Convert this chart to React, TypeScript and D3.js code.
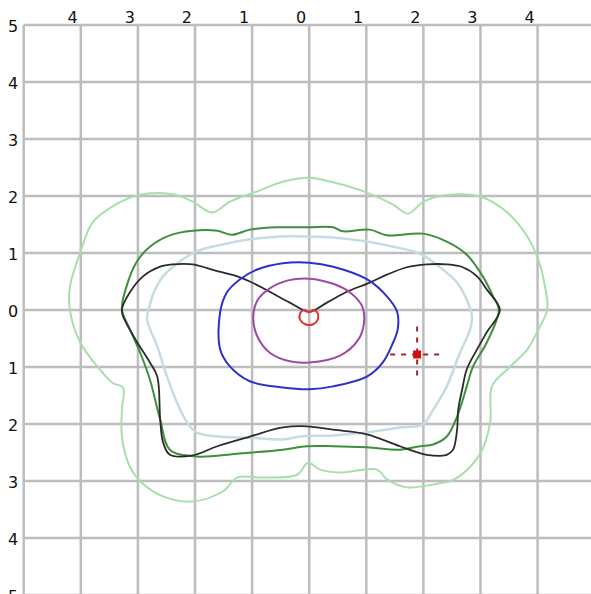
import { useEffect, useRef } from "react"
import * as d3 from "d3"

type Pt = [number, number]

// axis ticks (labels show absolute values)
const xTicks = [-4, -3, -2, -1, 0, 1, 2, 3, 4]
const yTicks = [5, 4, 3, 2, 1, 0, -1, -2, -3, -4, -5]
const gridValues = [-5, -4, -3, -2, -1, 0, 1, 2, 3, 4, 5]

// contour outlines (x, y in grid units)
const outerLight: Pt[] = [
  [0, 2.32], [0.42, 2.24], [1.01, 2.06], [1.47, 1.85], [1.73, 1.69], [2.0, 1.9],
  [2.35, 2.01], [2.99, 1.99], [3.47, 1.71], [3.82, 1.29], [4.01, 0.89], [4.13, 0.41],
  [4.17, 0.01], [4.04, -0.29], [3.82, -0.69], [3.47, -1.04], [3.2, -1.34], [3.17, -1.97],
  [3.03, -2.45], [2.82, -2.75], [2.52, -2.98], [2.17, -3.06], [1.71, -3.11], [1.36, -2.97],
  [1.19, -2.8], [0.54, -2.85], [0.19, -2.8], [-0.02, -2.68], [-0.21, -2.89], [-0.81, -2.94],
  [-1.26, -2.94], [-1.51, -3.18], [-2.04, -3.36], [-2.56, -3.27], [-2.93, -3.03],
  [-3.14, -2.75], [-3.28, -2.22], [-3.28, -1.75], [-3.26, -1.36], [-3.44, -1.28],
  [-3.71, -0.99], [-4.01, -0.57], [-4.19, -0.01], [-4.19, 0.41], [-4.01, 1.01],
  [-3.79, 1.54], [-3.44, 1.82], [-3.02, 2.01], [-2.39, 2.03], [-2.04, 1.9], [-1.7, 1.71],
  [-1.39, 1.9], [-0.91, 2.08], [-0.46, 2.25],
]

const darkGreen: Pt[] = [
  [-3.28, 0.01], [-3.2, 0.41], [-3.03, 0.83], [-2.79, 1.11], [-2.44, 1.31], [-2.04, 1.39],
  [-1.61, 1.39], [-1.35, 1.32], [-1.04, 1.41], [-0.56, 1.45], [0, 1.45], [0.42, 1.45],
  [0.59, 1.38], [1.06, 1.41], [1.36, 1.31], [1.99, 1.34], [2.41, 1.2], [2.76, 0.97],
  [3.04, 0.59], [3.22, 0.24], [3.32, 0.0], [3.11, -0.57], [2.87, -0.99], [2.76, -1.34],
  [2.59, -1.87], [2.41, -2.22], [2.17, -2.36], [1.94, -2.39], [1.59, -2.45], [1.01, -2.41],
  [0.42, -2.39], [-0.04, -2.39], [-0.46, -2.45], [-1.26, -2.52], [-1.97, -2.57],
  [-2.44, -2.45], [-2.61, -1.92], [-2.79, -1.22], [-2.96, -0.75], [-3.14, -0.34],
]

const paleBlue: Pt[] = [
  [-2.81, 0.01], [-2.72, 0.31], [-2.56, 0.59], [-2.21, 0.89], [-1.97, 1.03], [-1.51, 1.15],
  [-1.04, 1.24], [-0.51, 1.29], [0, 1.29], [0.42, 1.27], [1.01, 1.2], [1.47, 1.11],
  [1.82, 1.03], [2.06, 0.92], [2.34, 0.71], [2.59, 0.48], [2.76, 0.18], [2.85, -0.11],
  [2.82, -0.34], [2.64, -0.75], [2.41, -1.34], [2.17, -1.75], [1.99, -2.01], [1.59, -2.06],
  [1.01, -2.15], [0.42, -2.2], [-0.16, -2.22], [-0.46, -2.27], [-1.04, -2.24], [-1.61, -2.22],
  [-1.97, -2.15], [-2.09, -2.04], [-2.26, -1.75], [-2.49, -1.17], [-2.66, -0.64], [-2.84, -0.17],
]

const blackWing: Pt[] = [
  [-3.28, 0.01], [-3.14, 0.31], [-2.91, 0.59], [-2.61, 0.76], [-2.39, 0.8], [-2.04, 0.8],
  [-1.61, 0.68], [-1.26, 0.59], [-1.04, 0.5], [-0.69, 0.32], [-0.34, 0.13], [0, -0.03],
  [0.31, 0.13], [0.66, 0.32], [1.06, 0.48], [1.36, 0.62], [1.71, 0.75], [2.06, 0.8],
  [2.41, 0.8], [2.69, 0.75], [2.94, 0.59], [3.11, 0.36], [3.34, 0.0], [3.11, -0.39],
  [2.94, -0.69], [2.76, -1.04], [2.68, -1.39], [2.61, -1.75], [2.59, -2.1], [2.52, -2.45],
  [2.41, -2.54], [2.06, -2.54], [1.59, -2.39], [1.01, -2.18], [0.42, -2.1], [-0.04, -2.04],
  [-0.46, -2.06], [-1.04, -2.22], [-1.61, -2.39], [-2.04, -2.55], [-2.44, -2.54],
  [-2.56, -2.32], [-2.61, -1.92], [-2.66, -1.17], [-2.79, -0.92], [-3.01, -0.57], [-3.26, -0.11],
]

const blueRing: Pt[] = [
  [0, 0.83], [0.42, 0.76], [1.01, 0.54], [1.36, 0.24], [1.54, -0.03], [1.55, -0.34],
  [1.47, -0.57], [1.29, -0.92], [1.01, -1.17], [0.42, -1.34], [0, -1.39], [-0.46, -1.36],
  [-1.04, -1.25], [-1.39, -0.99], [-1.56, -0.69], [-1.56, -0.04], [-1.44, 0.31],
  [-1.21, 0.54], [-0.91, 0.71], [-0.46, 0.82],
]

const purpleRing: Pt[] = [
  [0, 0.55], [0.42, 0.46], [0.71, 0.31], [0.93, 0.06], [0.96, -0.22], [0.86, -0.52],
  [0.54, -0.8], [0, -0.92], [-0.34, -0.9], [-0.69, -0.75], [-0.91, -0.46], [-0.98, -0.13],
  [-0.9, 0.18], [-0.69, 0.38], [-0.37, 0.52],
]

const redLoop: Pt[] = [
  [0, -0.04], [0.08, 0.0], [0.15, -0.06], [0.15, -0.17], [0.07, -0.25], [-0.07, -0.25],
  [-0.16, -0.17], [-0.16, -0.06], [-0.09, 0.0],
]

const markerPoint: Pt = [1.89, -0.78]

const contours = [
  { pts: outerLight, color: "#a9dfa9", width: 2 },
  { pts: darkGreen, color: "#3f8f3f", width: 2 },
  { pts: paleBlue, color: "#c6dce2", width: 2.5 },
  { pts: blackWing, color: "#2b2b2b", width: 1.8 },
  { pts: blueRing, color: "#2f2fcc", width: 2 },
  { pts: purpleRing, color: "#a048a4", width: 2 },
  { pts: redLoop, color: "#e03333", width: 2 },
]

export default function App() {
  const ref = useRef<SVGSVGElement>(null)

  useEffect(() => {
    document.body.style.margin = "0"
    const svg = d3.select(ref.current)
    svg.selectAll("*").remove()

    const x = d3.scaleLinear().domain([-5, 5]).range([23.7, 594.7])
    const y = d3.scaleLinear().domain([5, -5]).range([25, 595])

    svg.append("rect").attr("width", 591).attr("height", 594).attr("fill", "#ffffff")

    // grid
    const grid = svg.append("g").attr("stroke", "#bdbdbd").attr("stroke-width", 2.5)
    gridValues.forEach((v) => {
      grid.append("line")
        .attr("x1", x(v)).attr("x2", x(v))
        .attr("y1", y(5)).attr("y2", 600)
      grid.append("line")
        .attr("x1", x(-5)).attr("x2", 600)
        .attr("y1", y(v)).attr("y2", y(v))
    })

    // tick labels
    const labels = svg.append("g")
      .attr("font-family", "DejaVu Sans, sans-serif")
      .attr("font-size", 16)
      .attr("fill", "#111")

    xTicks.forEach((v) => {
      labels.append("text")
        .attr("x", x(v) - 3)
        .attr("y", 23)
        .attr("text-anchor", "end")
        .text(Math.abs(v))
    })

    yTicks.forEach((v) => {
      labels.append("text")
        .attr("x", 13)
        .attr("y", y(v) + 1)
        .attr("text-anchor", "middle")
        .attr("dominant-baseline", "central")
        .text(Math.abs(v))
    })

    // contours
    const line = d3.line<Pt>()
      .x((d) => x(d[0]))
      .y((d) => y(d[1]))
      .curve(d3.curveCatmullRomClosed.alpha(0.5))

    contours.forEach((c) => {
      svg.append("path")
        .attr("d", line(c.pts))
        .attr("fill", "none")
        .attr("stroke", c.color)
        .attr("stroke-width", c.width)
        .attr("stroke-linejoin", "round")
    })

    // marker with dashed crosshair
    const mx = x(markerPoint[0])
    const my = y(markerPoint[1])
    const cross = svg.append("g")
      .attr("stroke", "#9c2a2a")
      .attr("stroke-width", 2)
      .attr("stroke-dasharray", "5 6")
    cross.append("line").attr("x1", mx - 27).attr("x2", mx + 27).attr("y1", my).attr("y2", my)
    cross.append("line").attr("x1", mx).attr("x2", mx).attr("y1", my - 28).attr("y2", my + 27)
    svg.append("rect")
      .attr("x", mx - 4).attr("y", my - 4)
      .attr("width", 8).attr("height", 8)
      .attr("fill", "#cc1111")
  }, [])

  return <svg ref={ref} width={591} height={594} style={{ display: "block" }} />
}
